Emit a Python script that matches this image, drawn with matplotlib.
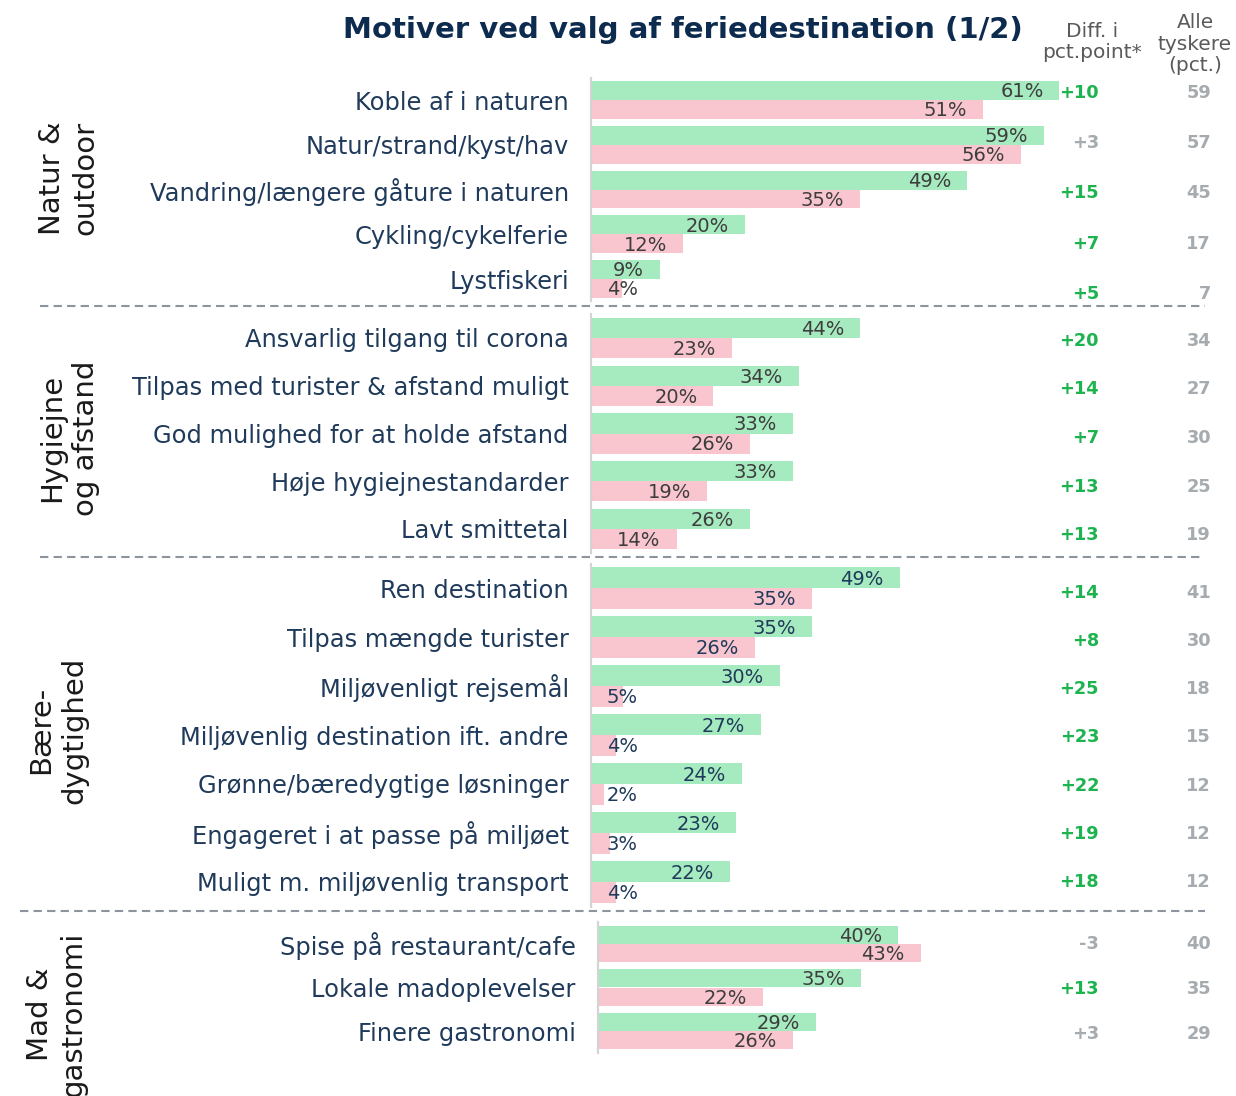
import numpy as np
import matplotlib
matplotlib.use("Agg")
import matplotlib.pyplot as plt
from matplotlib.lines import Line2D

plt.rcParams['font.family'] = ['DejaVu Sans']

# data
cats_1 = ["Koble af i naturen", "Natur/strand/kyst/hav", "Vandring/længere gåture i naturen",
          "Cykling/cykelferie", "Lystfiskeri"]
green_1 = [61, 59, 49, 20, 9]
pink_1 = [51, 56, 35, 12, 4]
diff_1 = [10, 3, 15, 7, 5]
alle_1 = [59, 57, 45, 17, 7]

cats_2 = ["Ansvarlig tilgang til corona", "Tilpas med turister & afstand muligt",
          "God mulighed for at holde afstand", "Høje hygiejnestandarder", "Lavt smittetal"]
green_2 = [44, 34, 33, 33, 26]
pink_2 = [23, 20, 26, 19, 14]
diff_2 = [20, 14, 7, 13, 13]
alle_2 = [34, 27, 30, 25, 19]

cats_3 = ["Ren destination", "Tilpas mængde turister", "Miljøvenligt rejsemål",
          "Miljøvenlig destination ift. andre", "Grønne/bæredygtige løsninger",
          "Engageret i at passe på miljøet", "Muligt m. miljøvenlig transport"]
green_3 = [49, 35, 30, 27, 24, 23, 22]
pink_3 = [35, 26, 5, 4, 2, 3, 4]
diff_3 = [14, 8, 25, 23, 22, 19, 18]
alle_3 = [41, 30, 18, 15, 12, 12, 12]

cats_4 = ["Spise på restaurant/cafe", "Lokale madoplevelser", "Finere gastronomi"]
green_4 = [40, 35, 29]
pink_4 = [43, 22, 26]
diff_4 = [-3, 13, 3]
alle_4 = [40, 35, 29]

group_names = ["Natur &\noutdoor", "Hygiejne\nog afstand", "Bære-\ndygtighed", "Mad &\ngastronomi"]

W, H = 1236, 1096
GREEN = "#a6eabf"
PINK = "#f9c6cf"
NAVY = "#1f3a5a"
DIFF_GREEN = "#1db34f"
GRAY = "#a6abaf"

fig = plt.figure(figsize=(W / 100, H / 100), dpi=100)


def px_to_fig(x, y):
    return x / W, 1 - y / H


# layout per group: axis left px, first row centre px, row pitch px, px per %,
# value label colour, diff column first/last y px, group label position px
groups = [
    dict(cats=cats_1, g=green_1, p=pink_1, d=diff_1, a=alle_1, left=591, c0=100, pitch=44.75,
         scale=7.68, vcol="#3d3d3d", dy=(93, 294), gx=69, gy=178),
    dict(cats=cats_2, g=green_2, p=pink_2, d=diff_2, a=alle_2, left=591, c0=338, pitch=47.75,
         scale=6.12, vcol="#3d3d3d", dy=(341, 535), gx=69, gy=438),
    dict(cats=cats_3, g=green_3, p=pink_3, d=diff_3, a=alle_3, left=591, c0=588, pitch=49,
         scale=6.3, vcol=NAVY, dy=(593, 882), gx=58, gy=730),
    dict(cats=cats_4, g=green_4, p=pink_4, d=diff_4, a=alle_4, left=598, c0=944, pitch=43.5,
         scale=7.5, vcol="#3d3d3d", dy=(944, 1034), gx=57, gy=1014),
]

right_px = 1100
for k, grp in enumerate(groups):
    n = len(grp["cats"])
    top = grp["c0"] - 0.5 * grp["pitch"]
    bottom = grp["c0"] + (n - 0.5) * grp["pitch"]
    ax = fig.add_axes([grp["left"] / W, 1 - bottom / H,
                       (right_px - grp["left"]) / W, (bottom - top) / H])
    ax.set_xlim(0, (right_px - grp["left"]) / grp["scale"])
    ax.set_ylim(n - 0.5, -0.5)
    y = np.arange(n)
    bh = 0.42
    ax.barh(y - bh / 2, grp["g"], height=bh, color=GREEN)
    ax.barh(y + bh / 2, grp["p"], height=bh, color=PINK)

    for vals, off in ((grp["g"], -bh / 2), (grp["p"], bh / 2)):
        for i, v in enumerate(vals):
            if v * grp["scale"] < 60:
                ax.annotate(f"{v}%", (0, i + off), xytext=(11.5, -1), textcoords="offset points",
                            ha="left", va="center", fontsize=14, color=grp["vcol"])
            else:
                ax.annotate(f"{v}%", (v, i + off), xytext=(-11.5, -1), textcoords="offset points",
                            ha="right", va="center", fontsize=14, color=grp["vcol"])

    ax.set_yticks(y)
    ax.set_yticklabels(grp["cats"], fontsize=17.4, color=NAVY)
    ax.tick_params(axis="y", length=0, pad=16)
    ax.set_xticks([])
    for s in ("top", "right", "bottom"):
        ax.spines[s].set_visible(False)
    ax.spines["left"].set_color("#d4d4d4")
    ax.spines["left"].set_linewidth(1.6)

    # diff + alle columns
    ys = np.linspace(grp["dy"][0], grp["dy"][1], n)
    for i in range(n):
        dv = grp["d"][i]
        col = DIFF_GREEN if dv >= 5 else GRAY
        xf, yf = px_to_fig(1099, ys[i])
        fig.text(xf, yf, f"{dv:+d}", ha="right", va="center", fontsize=12.8,
                 fontweight="bold", color=col)
        xf, yf = px_to_fig(1211, ys[i])
        fig.text(xf, yf, str(grp["a"][i]), ha="right", va="center", fontsize=12.8,
                 fontweight="bold", color=GRAY)

    xf, yf = px_to_fig(grp["gx"], grp["gy"])
    fig.text(xf, yf, group_names[k], rotation=90, ha="center", va="center",
             fontsize=21, color="#1a1a1a", linespacing=1.25, multialignment="center")

# dashed separators
for y_px, x0, x1 in ((306, 40, 1205), (557, 40, 1200), (911, 20, 1205)):
    fig.add_artist(Line2D([x0 / W, x1 / W], [1 - y_px / H] * 2, transform=fig.transFigure,
                          color="#8c959d", lw=1.5, dashes=(4, 2.5)))

# title + headers
xf, yf = px_to_fig(683, 30)
fig.text(xf, yf, "Motiver ved valg af feriedestination (1/2)", ha="center", va="center",
         fontsize=21, fontweight="bold", color="#0d2b4e")
xf, yf = px_to_fig(1092, 42)
fig.text(xf, yf, "Diff. i\npct.point*", ha="center", va="center", fontsize=14.5,
         color="#5a5a5a", linespacing=1.15)
xf, yf = px_to_fig(1195, 44)
fig.text(xf, yf, "Alle\ntyskere\n(pct.)", ha="center", va="center", fontsize=14.5,
         color="#5a5a5a", linespacing=1.15)

fig.savefig("out.png", dpi=100)
